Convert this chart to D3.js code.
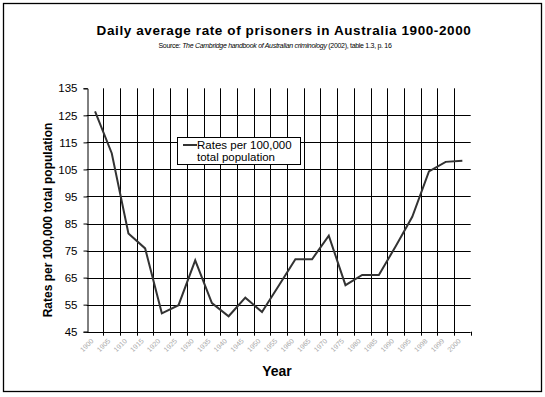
<!DOCTYPE html>
<html>
<head>
<meta charset="utf-8">
<script src="https://cdn.jsdelivr.net/npm/d3@7"></script>
<style>
  body { margin: 0; background: #fff; }
  svg text { font-family: "Liberation Sans", Arial, sans-serif; }
</style>
</head>
<body>
<svg id="chart" width="545" height="397"></svg>
<script>
// Kategorien (Jahre) und Werte
const years = ["1900", "1905", "1910", "1915", "1920", "1925", "1930", "1935", "1940", "1945",
  "1950", "1955", "1960", "1965", "1970", "1975", "1980", "1985", "1990", "1995",
  "1998", "1999", "2000"];
const rates = [126.5, 111, 81.3, 75.8, 51.8, 54.8, 71.4, 55.6, 50.7, 57.6,
  52.3, 62, 71.8, 71.8, 80.5, 62.2, 66, 66, 76.5, 87.5,
  104.3, 107.8, 108.2];
const yTicks = [45, 55, 65, 75, 85, 95, 105, 115, 125, 135];
const seriesName = ["Rates per 100,000", "total population"];

const svg = d3.select("#chart");

// Rahmen um das ganze Diagramm
svg.append("rect")
  .attr("x", 3.5)
  .attr("y", 3.5)
  .attr("width", 538)
  .attr("height", 388)
  .attr("fill", "white")
  .attr("stroke", "black")
  .attr("stroke-width", 1.3);

const x = d3.scaleBand()
  .domain(years)
  .range([86.7, 470.7])
  .padding(0);

const y = d3.scaleLinear()
  .domain([45, 135])
  .range([331.7, 88.3]);

const plot = svg.append("g");

// horizontale Gitterlinien
plot.selectAll(".hgrid")
  .data(yTicks.filter(d => d !== 45 && d !== 135))
  .enter()
  .append("line")
  .attr("x1", x.range()[0])
  .attr("x2", x.range()[1])
  .attr("y1", d => Math.round(y(d)) + 0.5)
  .attr("y2", d => Math.round(y(d)) + 0.5)
  .attr("stroke", "black")
  .attr("stroke-width", 1);

// vertikale Gitterlinien an den Kategoriegrenzen
const bounds = years.map(d => x(d)).concat([x.range()[1]]);
plot.selectAll(".vgrid")
  .data(bounds.slice(1, -1))
  .enter()
  .append("line")
  .attr("x1", d => Math.round(d) + 0.5)
  .attr("x2", d => Math.round(d) + 0.5)
  .attr("y1", y(135))
  .attr("y2", y(45) + 4)
  .attr("stroke", "black")
  .attr("stroke-width", 1);

// Tick an der rechten Ecke der x-Achse
plot.append("line")
  .attr("x1", Math.round(x.range()[1]) + 0.5)
  .attr("x2", Math.round(x.range()[1]) + 0.5)
  .attr("y1", y(45))
  .attr("y2", y(45) + 4)
  .attr("stroke", "black");

// y-Achse
const yAxis = svg.append("g")
  .attr("transform", `translate(${Math.round(x.range()[0]) + 0.5},0)`)
  .call(d3.axisLeft(y).tickValues(yTicks).tickSize(4).tickPadding(6));
yAxis.select(".domain").attr("stroke", "black");
yAxis.selectAll(".tick line").attr("stroke", "black");
yAxis.selectAll(".tick text")
  .attr("font-family", "Liberation Sans, Arial, sans-serif")
  .attr("font-size", 11.5)
  .attr("fill", "black");

// x-Achse
const xAxis = svg.append("g")
  .attr("transform", `translate(0,${Math.round(y(45)) + 0.5})`)
  .call(d3.axisBottom(x).tickSize(0).tickPadding(0));
xAxis.select(".domain").attr("stroke", "black").attr("d", `M${x.range()[0]},0H${x.range()[1]}`);
xAxis.selectAll(".tick text")
  .attr("font-family", "Liberation Sans, Arial, sans-serif")
  .attr("font-size", 7)
  .attr("fill", "#a8a8a8")
  .attr("text-anchor", "end")
  .attr("dy", 0)
  .attr("transform", "translate(-1,9) rotate(-45)");

// Datenlinie
const line = d3.line()
  .x((d, i) => x(years[i]) + x.bandwidth() / 2)
  .y(d => y(d));

svg.append("path")
  .datum(rates)
  .attr("d", line)
  .attr("fill", "none")
  .attr("stroke", "#333")
  .attr("stroke-width", 2);

// Legende
const legend = svg.append("g").attr("transform", "translate(177,137)");
legend.append("rect")
  .attr("x", 0.5)
  .attr("y", 0.5)
  .attr("width", 123)
  .attr("height", 27)
  .attr("fill", "white")
  .attr("stroke", "black");
legend.append("line")
  .attr("x1", 6)
  .attr("x2", 20)
  .attr("y1", 8)
  .attr("y2", 8)
  .attr("stroke", "#333")
  .attr("stroke-width", 2);
legend.selectAll(".ltext")
  .data(seriesName)
  .enter()
  .append("text")
  .attr("x", 20)
  .attr("y", (d, i) => 12 + i * 12)
  .attr("font-size", 11.5)
  .attr("fill", "black")
  .text(d => d);

// Titel
svg.append("text")
  .attr("x", 284)
  .attr("y", 35)
  .attr("text-anchor", "middle")
  .attr("font-size", 13.5)
  .attr("font-weight", "bold")
  .attr("letter-spacing", 0.6)
  .text("Daily average rate of prisoners in Australia 1900-2000");

const sub = svg.append("text")
  .attr("x", 275)
  .attr("y", 48)
  .attr("text-anchor", "middle")
  .attr("font-size", 7)
  .attr("letter-spacing", -0.3);
sub.append("tspan").text("Source: ");
sub.append("tspan").attr("font-style", "italic").text("The Cambridge handbook of Australian criminology");
sub.append("tspan").text(" (2002),  table 1.3, p. 16");

// Achsentitel
svg.append("text")
  .attr("transform", "translate(52,220) rotate(-90)")
  .attr("text-anchor", "middle")
  .attr("font-size", 12)
  .attr("font-weight", "bold")
  .text("Rates per 100,000 total population");

svg.append("text")
  .attr("x", 277)
  .attr("y", 376)
  .attr("text-anchor", "middle")
  .attr("font-size", 14)
  .attr("font-weight", "bold")
  .text("Year");
</script>
</body>
</html>
